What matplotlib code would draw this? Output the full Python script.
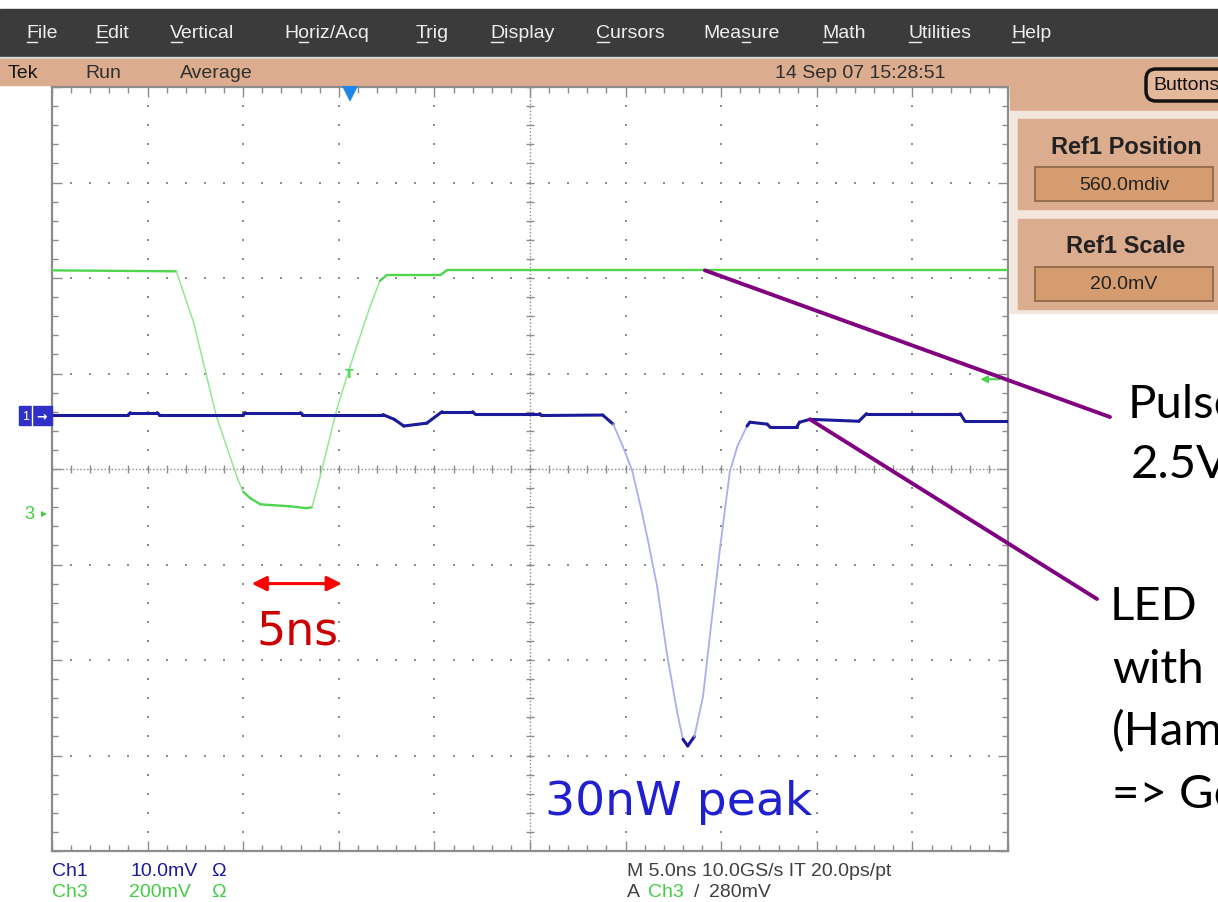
import matplotlib
matplotlib.use("Agg")

import numpy as np
import matplotlib.pyplot as plt
from matplotlib.patches import Rectangle, FancyBboxPatch
from matplotlib.collections import LineCollection

# ---- trace data: time in ns (5 ns/div), level in divisions ----
ch3_t = [-25.0, -18.5, -17.6, -16.4, -15.3, -15.0, -14.6, -14.1, -12.6, -11.7,
         -11.4, -11.0, -10.1, -9.4, -8.4, -7.85, -7.5, -4.7, -4.35, 25.0]
ch3_v = [2.08, 2.07, 1.54, 0.55, -0.10, -0.24, -0.31, -0.37, -0.39, -0.41,
         -0.40, -0.10, 0.63, 1.08, 1.68, 1.97, 2.03, 2.03, 2.08, 2.08]

ch1_t = [-25.0, -21.0, -20.9, -19.5, -19.4, -15.0, -14.9, -12.0, -11.9, -7.7,
         -7.1, -6.6, -5.4, -4.6, -3.0, -2.9, 0.5, 0.6, 3.8, 4.35,
         4.85, 5.35, 5.85, 6.15, 6.65, 7.15, 7.7, 8.0, 8.25, 8.6,
         9.05, 9.55, 9.95, 10.45, 10.85, 11.35, 11.5, 12.4, 12.55, 13.95,
         14.1, 14.65, 17.2, 17.6, 22.5, 22.75, 25.0]
ch1_v = [0.57, 0.57, 0.59, 0.59, 0.57, 0.57, 0.59, 0.59, 0.57, 0.57,
         0.52, 0.45, 0.48, 0.60, 0.60, 0.58, 0.58, 0.56, 0.565, 0.47,
         0.24, -0.02, -0.45, -0.73, -1.23, -1.92, -2.55, -2.83, -2.90, -2.80,
         -2.38, -1.50, -0.81, -0.03, 0.24, 0.45, 0.49, 0.47, 0.44, 0.44,
         0.49, 0.52, 0.50, 0.58, 0.58, 0.50, 0.50]

ch1_offset = 0.56       # div
ch3_ground = -0.47      # div
trig_time = -9.4        # ns
trig_level = 0.94       # div
span_start, span_len = -14.7, 5.0   # the "5ns" marker
green_tap = (9.15, 2.08)
blue_tap = (14.64, 0.52)

menu_items = ["File", "Edit", "Vertical", "Horiz/Acq", "Trig", "Display",
              "Cursors", "Measure", "Math", "Utilities", "Help"]
menu_keys = [0, 0, 0, 1, 0, 0, 0, 3, 0, 0, 0]
menu_x = [26, 95, 170, 284, 416, 490, 596, 703, 822, 908, 1011]

W, H = 1218, 903
TAN = "#dcac8e"
BTN = "#d59c6f"
GREEN = "#4fd64f"
NAVY = "#1a1a9a"
GRID = "#8c8c8c"
UIFONT = ["Liberation Sans", "DejaVu Sans"]

fig = plt.figure(figsize=(W / 100, H / 100), dpi=100)
fig.patch.set_facecolor("white")

# ---- scope chrome in pixel coordinates ----
ui = fig.add_axes([0, 0, 1, 1], zorder=0)
ui.set_xlim(0, W)
ui.set_ylim(H, 0)
ui.axis("off")

ui.add_patch(Rectangle((0, 10), W, 48, color="#3b3b3b"))
ui.add_patch(Rectangle((0, 58), W, 2, color="#d8d8d8"))
ui.add_patch(Rectangle((0, 60), W, 26, color=TAN))
ui.add_patch(Rectangle((1010, 86), W - 1010, 26, color=TAN))
ui.add_patch(Rectangle((1010, 112), W - 1010, 202, color="#f3e6dc"))

fig.canvas.draw()
renderer = fig.canvas.get_renderer()


def text_width(s, **kw):
    if not s:
        return 0.0
    t = ui.text(0, 0, s, **kw)
    w = t.get_window_extent(renderer).width
    t.remove()
    return w


menu_kw = dict(fontsize=14, family=UIFONT)
for x, name, k in zip(menu_x, menu_items, menu_keys):
    ui.text(x, 33, name, color="#eeeeee", va="center", ha="left", **menu_kw)
    x0 = x + text_width(name[:k], **menu_kw)
    x1 = x + text_width(name[:k + 1], **menu_kw)
    ui.plot([x0 + 1, x1 - 1], [43, 43], color="#eeeeee", lw=1)

bar_kw = dict(fontsize=14, family=UIFONT, va="center", color="#2f2f2f")
ui.text(8, 73, "Tek", **{**bar_kw, "color": "#151515"})
ui.text(85, 73, "Run", **bar_kw)
ui.text(180, 73, "Average", **bar_kw)
ui.text(775, 73, "14 Sep 07 15:28:51", **bar_kw)

ui.add_patch(FancyBboxPatch((1146, 70), 90, 32, boxstyle="round,pad=0,rounding_size=10",
                            facecolor="#e4b89a", edgecolor="#111111", lw=2.5))
ui.text(1153, 86, "Buttons", fontsize=14, family=UIFONT, va="center", color="#111111")

for y0, title, val in [(120, "Ref1 Position", "560.0mdiv"), (220, "Ref1 Scale", "20.0mV")]:
    ui.add_patch(Rectangle((1018, y0), W - 1018, 90, color=TAN))
    ui.add_patch(Rectangle((1035, y0 + 48), 178, 34, facecolor=BTN,
                           edgecolor="#8a6448", lw=1.2))
    ui.text(1126, y0 + 27, title, ha="center", va="center", fontsize=17,
            fontweight="bold", family=UIFONT, color="#222222")
    ui.text(1124, y0 + 65, val, ha="center", va="center", fontsize=14,
            family=UIFONT, color="#222222")

lab_kw = dict(fontsize=14, family=UIFONT, va="center")
ui.text(52, 872, "Ch1", color=NAVY, **lab_kw)
ui.text(131, 872, "10.0mV", color=NAVY, **lab_kw)
ui.text(211, 872, "\u03a9", color=NAVY, **lab_kw)
ui.text(52, 893, "Ch3", color="#44cc44", **lab_kw)
ui.text(129, 893, "200mV", color="#44cc44", **lab_kw)
ui.text(211, 893, "\u03a9", color="#44cc44", **lab_kw)
ui.text(627, 872, "M 5.0ns 10.0GS/s IT 20.0ps/pt", color="#404040", **lab_kw)
ui.text(627, 893, "A", color="#404040", **lab_kw)
ui.text(648, 893, "Ch3", color="#44cc44", **lab_kw)
xs = 648 + text_width("Ch3", **lab_kw) + 10
ui.text(xs, 893, "/", color="#404040", **lab_kw)
ui.text(xs + text_width("/", **lab_kw) + 10, 893, "280mV", color="#404040", **lab_kw)

# ---- graticule ----
ax = fig.add_axes([52 / W, 51 / H, 956 / W, 764 / H], zorder=2)
ax.set_xlim(-25, 25)
ax.set_ylim(-4, 4)
ax.set_facecolor("none")
for sp in ax.spines.values():
    sp.set_color(GRID)
    sp.set_linewidth(1.6)
ax.set_xticks(np.arange(-25, 26, 5))
ax.set_xticks(np.arange(-25, 26, 1), minor=True)
ax.set_yticks(np.arange(-4, 5, 1))
ax.set_yticks(np.arange(-4, 4.01, 0.2), minor=True)
ax.tick_params(which="both", direction="in", top=True, right=True,
               labelbottom=False, labelleft=False, color=GRID, width=1)
ax.tick_params(which="major", length=7)
ax.tick_params(which="minor", length=4)

fine_y = np.arange(-4, 4.01, 0.2)
fine_x = np.arange(-25, 25.01, 1.0)
for k in range(-4, 5):
    if k != 0:
        ax.plot(np.full_like(fine_y, k * 5.0), fine_y, ls="none", marker="s",
                ms=1.5, mew=0, color=GRID, zorder=1)
for j in range(-3, 4):
    if j != 0:
        ax.plot(fine_x, np.full_like(fine_x, float(j)), ls="none", marker="s",
                ms=1.5, mew=0, color=GRID, zorder=1)

ax.axhline(0, color=GRID, lw=1, ls=(0, (1, 1.5)), zorder=1)
ax.axvline(0, color=GRID, lw=1, ls=(0, (1, 1.5)), zorder=1)
ax.vlines(fine_x, -0.047, 0.047, color=GRID, lw=1, zorder=1)
ax.hlines(fine_y, -0.235, 0.235, color=GRID, lw=1, zorder=1)


def draw_trace(t, v, dark, light, lw_dark, lw_light, steep=0.35):
    t = np.asarray(t, float)
    v = np.asarray(v, float)
    pts = np.column_stack([t, v])
    segs = np.stack([pts[:-1], pts[1:]], axis=1)
    dv = np.diff(v)
    slope = np.abs(dv / np.diff(t))
    fast = (slope > steep) & (np.abs(dv) > 0.1)
    cols = [light if f else dark for f in fast]
    lws = [lw_light if f else lw_dark for f in fast]
    ax.add_collection(LineCollection(segs, colors=cols, linewidths=lws,
                                     capstyle="round", zorder=5))


draw_trace(ch3_t, ch3_v, GREEN, "#92e892", 1.7, 1.1)
draw_trace(ch1_t, ch1_v, NAVY, "#a9aef0", 2.2, 1.3)

# scope markers
ax.plot(trig_time, 3.93, marker="v", ms=11, color="#1e88e8", mew=0,
        clip_on=False, zorder=6)
ax.text(trig_time - 0.05, 1.0, "T", color=GREEN, fontsize=9, fontweight="bold",
        ha="center", va="center", zorder=6)
ax.annotate("", xy=(23.4, trig_level), xytext=(24.7, trig_level),
            arrowprops=dict(arrowstyle="-|>", color=GREEN, lw=1.5, mutation_scale=10),
            zorder=6)

yt = ax.get_yaxis_transform()
ax.add_patch(Rectangle((-0.034, ch1_offset - 0.095), 0.034, 0.19, transform=yt,
                       color="#3030c8", clip_on=False, zorder=6))
ax.plot([-0.021, -0.021], [ch1_offset - 0.095, ch1_offset + 0.095], transform=yt,
        color="white", lw=1, clip_on=False, zorder=7)
ax.text(-0.028, ch1_offset, "1", transform=yt, color="white", fontsize=9,
        ha="center", va="center", family=UIFONT, clip_on=False, zorder=7)
ax.text(-0.0105, ch1_offset, "\u2192", transform=yt, color="white", fontsize=9,
        fontweight="bold", ha="center", va="center", clip_on=False, zorder=7)
ax.text(-0.024, ch3_ground, "3", transform=yt, color="#44cc44", fontsize=13,
        ha="center", va="center", family=UIFONT, clip_on=False, zorder=7)
ax.plot(-0.008, ch3_ground, transform=yt, marker=">", ms=5, mew=0,
        color="#44cc44", clip_on=False, zorder=7)

# ---- annotations ----
ax.annotate("", xy=(span_start + span_len, -1.2), xytext=(span_start, -1.2),
            arrowprops=dict(arrowstyle="<|-|>", color="#ff0000", lw=2.2,
                            mutation_scale=22), zorder=8)
ax.text(span_start + 0.4, -1.83, "5ns", color="#cc0000", fontsize=33,
        va="baseline", ha="left", zorder=8)
ax.text(0.78, -3.61, "30nW peak", color="#2020d0", fontsize=34,
        va="baseline", ha="left", zorder=8)

purple = dict(arrowstyle="-", color="#800080", lw=2.8, shrinkA=0, shrinkB=0)
ax.annotate("", xy=green_tap, xytext=(1110 / W, 1 - 418 / H),
            textcoords="figure fraction", arrowprops=purple,
            annotation_clip=False, zorder=9)
ax.annotate("", xy=blue_tap, xytext=(1097 / W, 1 - 600 / H),
            textcoords="figure fraction", arrowprops=purple,
            annotation_clip=False, zorder=9)

# side notes run off the right edge, as in the original slide
note_kw = dict(fontsize=34, color="black", va="baseline", ha="left",
               family=["Lato", "DejaVu Sans"])
for s, x, y in [("Pulse", 1128, 418), ("2.5V", 1131, 478),
                ("LED", 1110, 620), ("with", 1112, 683),
                ("(Ham", 1112, 745), ("=> Ge", 1112, 808)]:
    fig.text(x / W, 1 - y / H, s, **note_kw)

fig.savefig("out.png", dpi=100)
